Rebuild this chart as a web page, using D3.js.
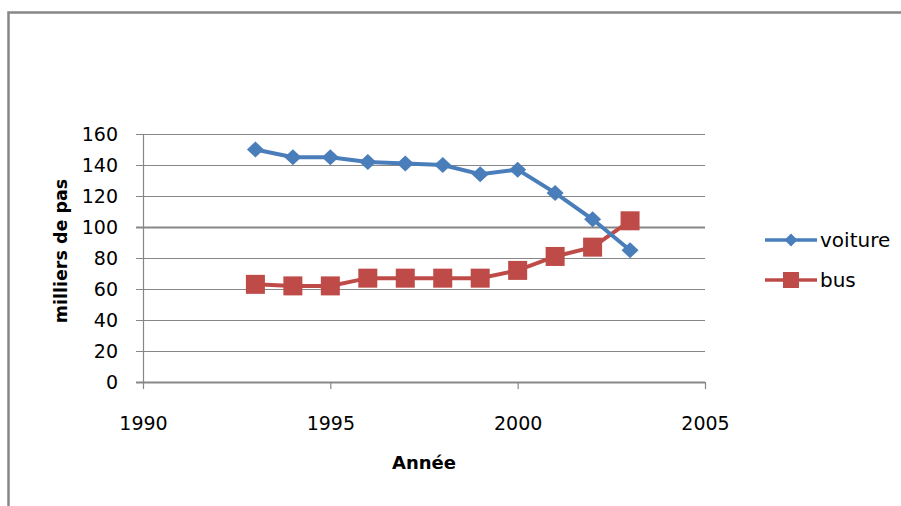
<!DOCTYPE html>
<html><head><meta charset="utf-8">
<script src="https://cdn.jsdelivr.net/npm/d3@7"></script>
<style>body{margin:0;background:#fff;}svg{display:block;}</style>
</head><body>
<script>
const years = [1993,1994,1995,1996,1997,1998,1999,2000,2001,2002,2003];
const voiture = [150,145,145,142,141,140,134,137,122,105,85];
const bus = [63,62,62,67,67,67,67,72,81,87,104];
const yTicks = [0,20,40,60,80,100,120,140,160];
const xTicks = [1990,1995,2000,2005];
const seriesNames = ["voiture","bus"];

const W=901,H=506;
const svg=d3.select("body").append("svg").attr("width",W).attr("height",H);
const font="DejaVu Sans";

// frame
svg.append("path").attr("d","M8.5,506 L8.5,12.5 L901,12.5").attr("fill","none").attr("stroke","#878787").attr("stroke-width",2.5);

const x=d3.scaleLinear().domain([1990,2005]).range([143,705]);
const y=d3.scaleLinear().domain([0,160]).range([382,134]);

// gridlines
svg.append("g").selectAll("line").data(yTicks).join("line")
  .attr("x1",136).attr("x2",705).attr("y1",d=>Math.round(y(d))+0.5).attr("y2",d=>Math.round(y(d))+0.5)
  .attr("stroke","#878787").attr("stroke-width",d=>(d===0||d===100)?2:1.2);

// y axis
const ya=svg.append("g").attr("transform","translate(143,0)")
  .call(d3.axisLeft(y).tickValues(yTicks).tickSize(7).tickPadding(18));
ya.select(".domain").attr("stroke","#878787").attr("stroke-width",1.2);
ya.selectAll(".tick line").remove();
ya.selectAll("text").attr("font-family",font).attr("font-size",19).attr("fill","#000");

// x axis
const xa=svg.append("g").attr("transform","translate(0,382)")
  .call(d3.axisBottom(x).tickValues(xTicks).tickFormat(d3.format("d")).tickSize(7).tickPadding(28));
xa.select(".domain").remove();
xa.selectAll(".tick line").attr("stroke","#878787").attr("stroke-width",1.2);
xa.selectAll("text").attr("font-family",font).attr("font-size",19).attr("fill","#000");

// titles
svg.append("text").attr("x",424).attr("y",469).attr("text-anchor","middle")
  .attr("font-family",font).attr("font-size",18).attr("font-weight","bold").text("Année");
svg.append("text").attr("transform","translate(67,251) rotate(-90)").attr("text-anchor","middle")
  .attr("font-family",font).attr("font-size",17.5).attr("font-weight","bold").text("milliers de pas");

const colors={voiture:"#4a7ebb",bus:"#be4b48"};
const line=d3.line().x((d,i)=>x(years[i])).y(d=>y(d));

// bus
svg.append("path").datum(bus).attr("d",line).attr("fill","none").attr("stroke",colors.bus).attr("stroke-width",4);
svg.append("g").selectAll("rect").data(bus).join("rect")
  .attr("x",(d,i)=>x(years[i])-9.5).attr("y",d=>y(d)-9.5).attr("width",19).attr("height",19).attr("fill",colors.bus);

// voiture
svg.append("path").datum(voiture).attr("d",line).attr("fill","none").attr("stroke",colors.voiture).attr("stroke-width",4);
const diamond="M0,-8 L8.5,0 L0,8 L-8.5,0 Z";
svg.append("g").selectAll("path").data(voiture).join("path")
  .attr("d",diamond).attr("transform",(d,i)=>`translate(${x(years[i])},${y(d)})`).attr("fill",colors.voiture);

// legend
const leg=[{n:"voiture",y:240},{n:"bus",y:280}];
leg.forEach(l=>{
  svg.append("line").attr("x1",765).attr("x2",817).attr("y1",l.y).attr("y2",l.y).attr("stroke",colors[l.n]).attr("stroke-width",3.5);
  if(l.n==="voiture") svg.append("path").attr("d","M0,-6.5 L6.5,0 L0,6.5 L-6.5,0 Z").attr("transform",`translate(791,${l.y})`).attr("fill",colors[l.n]);
  else svg.append("rect").attr("x",783).attr("y",l.y-8).attr("width",16).attr("height",16).attr("fill",colors[l.n]);
  svg.append("text").attr("x",820).attr("y",l.y).attr("dy","0.35em").attr("font-family",font).attr("font-size",20).text(l.n);
});
</script>
</body></html>
